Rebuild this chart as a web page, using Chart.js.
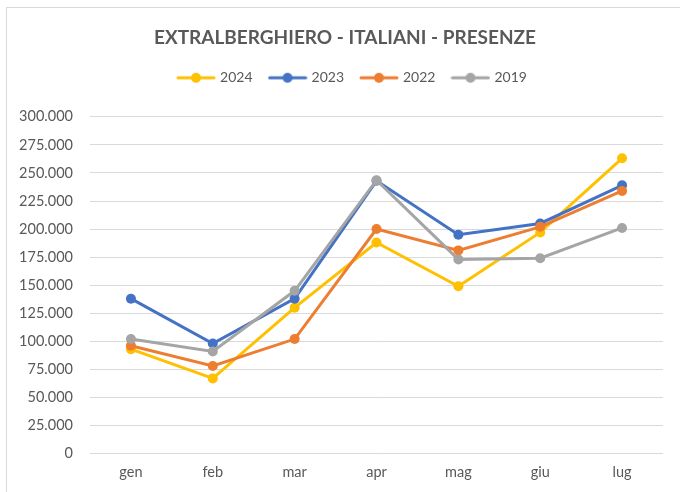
<!DOCTYPE html>
<html>
<head>
<meta charset="utf-8">
<script src="https://cdn.jsdelivr.net/npm/chart.js@4"></script>
<style>
  html, body { margin: 0; padding: 0; background: #fff; }
  #wrap { position: relative; width: 680px; height: 492px; overflow: hidden; }
  #frame { position: absolute; left: 6px; top: 7px; width: 700px; height: 500px; border: 1px solid #D9D9D9; box-sizing: border-box; }
  canvas { position: absolute; left: 0; top: 0; }
</style>
</head>
<body>
<div id="wrap">
  <div id="frame"></div>
  <canvas id="c" width="680" height="492"></canvas>
</div>
<script>
const titleText = 'EXTRALBERGHIERO - ITALIANI - PRESENZE';
const months = ['gen', 'feb', 'mar', 'apr', 'mag', 'giu', 'lug'];
const seriesNames = ['2024', '2023', '2022', '2019'];
const values2024 = [93000, 67000, 130000, 188000, 149000, 197000, 263000];
const values2023 = [138000, 98000, 138000, 243000, 195000, 205000, 239000];
const values2022 = [96000, 78000, 102000, 200000, 181000, 202000, 234000];
const values2019 = [102000, 91000, 145000, 243500, 173000, 174000, 201000];
const yTickValues = [0, 25000, 50000, 75000, 100000, 125000, 150000, 175000, 200000, 225000, 250000, 275000, 300000];
const colors = ['#FFC000', '#4472C4', '#ED7D31', '#A5A5A5'];

const fontFamily = 'Lato, "Open Sans", sans-serif';
const textColor = '#595959';

function fmt(v) {
  return String(v).replace(/\B(?=(\d{3})+(?!\d))/g, '.');
}

function legendSymbol(color) {
  const cv = document.createElement('canvas');
  cv.width = 40; cv.height = 12;
  const g = cv.getContext('2d');
  g.strokeStyle = color;
  g.lineWidth = 3;
  g.lineCap = 'round';
  g.beginPath(); g.moveTo(2, 6); g.lineTo(38, 6); g.stroke();
  g.fillStyle = color;
  g.beginPath(); g.arc(20, 6, 5, 0, Math.PI * 2); g.fill();
  return cv;
}

const allValues = [values2024, values2023, values2022, values2019];
const datasets = seriesNames.map((name, i) => ({
  label: name,
  data: allValues[i],
  borderColor: colors[i],
  backgroundColor: colors[i],
  borderWidth: 3,
  pointRadius: 5,
  pointHoverRadius: 5,
  pointBorderWidth: 0,
  pointBackgroundColor: colors[i],
  tension: 0,
  order: 3 - i
}));

// let the y tick labels extend left of the (narrow) axis box without being clipped
const unclipYLabels = {
  id: 'unclipYLabels',
  afterLayout(chart) {
    const y = chart.scales.y;
    y.left = 0;
    if (chart.legend) { chart.legend.left += 8; chart.legend.right += 8; }
  }
};

new Chart(document.getElementById('c'), {
  type: 'line',
  data: { labels: months, datasets },
  plugins: [unclipYLabels],
  options: {
    responsive: false,
    animation: false,
    devicePixelRatio: 1,
    layout: { padding: { left: 27, right: 17, top: 0, bottom: 1 } },
    plugins: {
      title: {
        display: true,
        text: titleText,
        color: textColor,
        font: { family: fontFamily, size: 19, weight: 'bold', lineHeight: 1.2 },
        padding: { top: 26, bottom: 4 }
      },
      subtitle: {
        display: true,
        text: ' ',
        weight: 500,
        font: { size: 10, lineHeight: 1 },
        padding: { top: 0, bottom: 12 }
      },
      legend: {
        display: true,
        position: 'top',
        labels: {
          color: textColor,
          font: { family: fontFamily, size: 14 },
          usePointStyle: true,
          pointStyleWidth: 34,
          padding: 18,
          generateLabels: (chart) => chart.data.datasets.map((ds, i) => ({
            text: ds.label,
            fontColor: textColor,
            pointStyle: legendSymbol(colors[i]),
            datasetIndex: i,
            hidden: false,
            lineWidth: 0,
            strokeStyle: colors[i],
            fillStyle: colors[i]
          }))
        }
      },
      tooltip: { enabled: false }
    },
    scales: {
      x: {
        offset: true,
        grid: { display: false, drawTicks: false },
        border: { display: false },
        ticks: {
          color: textColor,
          font: { family: fontFamily, size: 14.5 },
          padding: 10
        }
      },
      y: {
        min: 0,
        max: 300000,
        afterFit: (scale) => { scale.width = 63; },
        afterBuildTicks: (scale) => { scale.ticks = yTickValues.map(v => ({ value: v })); },
        grid: { color: '#D9D9D9', lineWidth: 1, drawTicks: false },
        border: { display: false },
        ticks: {
          color: textColor,
          font: { family: fontFamily, size: 14.5 },
          padding: 17,
          callback: (v) => fmt(v)
        }
      }
    }
  }
});
</script>
</body>
</html>
